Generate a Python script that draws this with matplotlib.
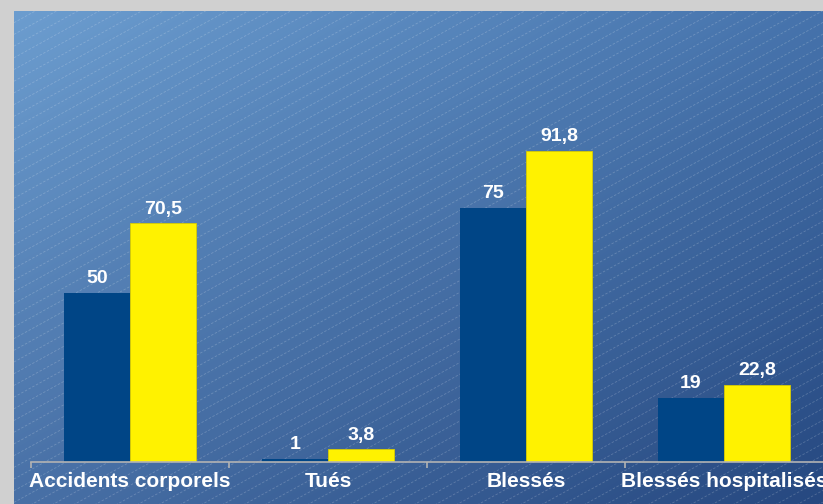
import matplotlib.pyplot as plt
import numpy as np

categories = ["Accidents corporels", "Tués", "Blessés", "Blessés hospitalisés"]
serie_1 = [50, 1, 75, 19]
serie_2 = [70.5, 3.8, 91.8, 22.8]

W, H = 823, 504
fig = plt.figure(figsize=(W / 100, H / 100), dpi=100)
fig.patch.set_facecolor("#d0d0d0")

# --- background panel: diagonal gradient + faint hatch lines ---
x0, y0 = 14, 11
bw, bh = W - x0, H - y0
bg = fig.add_axes([x0 / W, 0, bw / W, bh / H])
bg.set_axis_off()
tl = np.array([108, 157, 207]) / 255
tr = np.array([70, 115, 172]) / 255
bl = np.array([72, 112, 166]) / 255
br = np.array([38, 72, 128]) / 255
u = np.linspace(0, 1, 200)[None, :, None]
v = np.linspace(0, 1, 130)[:, None, None]
grad = (1 - u) * (1 - v) * tl + u * (1 - v) * tr + (1 - u) * v * bl + u * v * br
bg.imshow(grad, extent=(0, bw, bh, 0), aspect="auto", interpolation="bilinear")
slope = 0.55
for c in np.arange(0, bh + slope * bw + 12, 11.7):
    bg.plot([0, bw], [c, c - slope * bw], color="white", lw=0.6, alpha=0.2,
            ls=(0, (3, 2)))
bg.set_xlim(0, bw)
bg.set_ylim(bh, 0)

# --- main chart ---
px_per_unit = 311 / 91.8
ax = fig.add_axes([31 / W, (H - 462) / H, 792 / W, 451 / H])
ax.patch.set_alpha(0)
ax.set_xlim(-0.5, 3.5)
ax.set_ylim(0, 451 / px_per_unit)

x = np.arange(len(categories))
w = 1 / 3
b1 = ax.bar(x - w / 2, serie_1, w, color="#004586", zorder=2)
b2 = ax.bar(x + w / 2, serie_2, w, color="#fff200", edgecolor="#d8cc00",
            linewidth=0.6, zorder=2)

def fmt(val):
    return f"{val:g}".replace(".", ",")

for bars, vals in ((b1, serie_1), (b2, serie_2)):
    for rect, val in zip(bars, vals):
        ax.annotate(fmt(val), (rect.get_x() + rect.get_width() / 2, val),
                    xytext=(0, 4), textcoords="offset points",
                    ha="center", va="bottom", color="white",
                    fontsize=14, fontweight="bold", family="Liberation Sans")

for s in ("top", "right", "left"):
    ax.spines[s].set_visible(False)
ax.spines["bottom"].set_color("#b3b3b3")
ax.spines["bottom"].set_linewidth(1.2)
ax.set_yticks([])
ax.set_xticks(x)
ax.set_xticklabels(categories, color="white", fontsize=15,
                   fontweight="bold", family="Liberation Sans")
ax.tick_params(axis="x", which="major", length=0, pad=7)
ax.set_xticks([-0.5, 0.5, 1.5, 2.5], minor=True)
ax.tick_params(axis="x", which="minor", length=4, color="#b3b3b3", width=1.2)
for lab in ax.get_xticklabels():
    lab.set_clip_on(False)

fig.savefig("out.png", dpi=100, facecolor=fig.get_facecolor())
